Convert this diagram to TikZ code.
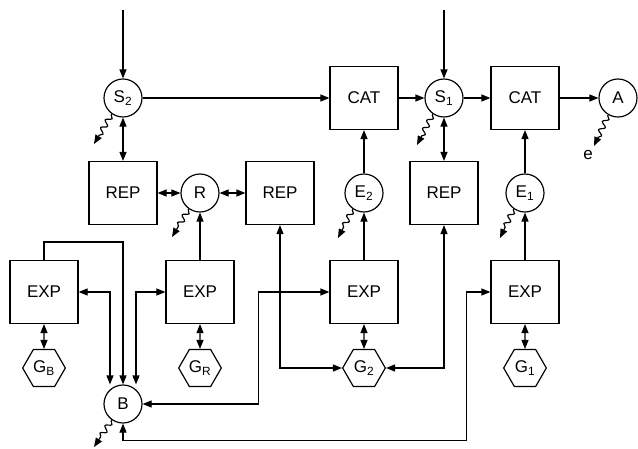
\documentclass[tikz,border=0pt]{standalone}
\usepackage{fontspec}
\setmainfont{Liberation Sans}
\usetikzlibrary{arrows.meta,shapes.geometric,decorations.pathmorphing,calc}

\begin{document}
\begin{tikzpicture}[x=0.03cm,y=-0.03cm,line width=1pt,
  font=\fontsize{14.5}{16}\selectfont,
  >={Triangle[length=2.7mm,width=2.1mm]},
  box/.style={draw,minimum width=2.04cm,minimum height=1.89cm,inner sep=0pt},
  ball/.style={draw,circle,minimum size=1.14cm,inner sep=0pt},
  hexa/.style={draw,regular polygon,regular polygon sides=6,minimum size=1.28cm,inner sep=0pt},
  wave/.style={->,decorate,decoration={snake,amplitude=0.8mm,segment length=2.7mm,pre length=0.3mm,post length=2.7mm}}]
  \useasboundingbox (0,0) rectangle (638,449);

  \node[ball] (S2) at (123,98) {S\textsubscript{2}};
  \node[box] (CAT1) at (364,98) {CAT};
  \node[ball] (S1) at (444,98) {S\textsubscript{1}};
  \node[box] (CAT2) at (525,98) {CAT};
  \node[ball] (A) at (618,98) {A};
  \node[box] (REP1) at (123,193) {REP};
  \node[ball] (R) at (200,193) {R};
  \node[box] (REP2) at (280,193) {REP};
  \node[ball] (E2) at (364,193) {E\textsubscript{2}};
  \node[box] (REP3) at (444,193) {REP};
  \node[ball] (E1) at (525,193) {E\textsubscript{1}};
  \node[box] (EXP1) at (44,292) {EXP};
  \node[box] (EXP2) at (200,292) {EXP};
  \node[box] (EXP3) at (364,292) {EXP};
  \node[box] (EXP4) at (525,292) {EXP};
  \node[hexa] (GB) at (44,368) {G\textsubscript{B}};
  \node[hexa] (GR) at (200,368) {G\textsubscript{R}};
  \node[hexa] (G2) at (364,368) {G\textsubscript{2}};
  \node[hexa] (G1) at (525,368) {G\textsubscript{1}};
  \node[ball] (B) at (123,404) {B};

  \coordinate (in2) at (123,10);
  \coordinate (in1) at (444,10);
  \coordinate (lossS2) at (94,144);
  \coordinate (lossR) at (172,237);
  \coordinate (lossE2) at (338,238);
  \coordinate (lossS1) at (417,145);
  \coordinate (lossE1) at (500,238);
  \coordinate (lossA) at (594,146);
  \coordinate (lossB) at (94,447);
  \node (e) at (588,155) {e};

  \draw[->] (in2) -- (S2);
  \draw[->] (in1) -- (S1);
  \draw[->] (S2) -- (CAT1);
  \draw[->] (CAT1) -- (S1);
  \draw[->] (S1) -- (CAT2);
  \draw[->] (CAT2) -- (A);
  \draw[<->] (S2) -- (REP1);
  \draw[<->] (S1) -- (REP3);
  \draw[<->] (REP1) -- (R);
  \draw[<->] (R) -- (REP2);
  \draw[->] (E2) -- (CAT1);
  \draw[->] (E1) -- (CAT2);
  \draw[->] (EXP2) -- (R);
  \draw[->] (EXP3) -- (E2);
  \draw[->] (EXP4) -- (E1);
  \draw[<->] (EXP1) -- (GB);
  \draw[<->] (EXP2) -- (GR);
  \draw[<->] (EXP3) -- (G2);
  \draw[<->] (EXP4) -- (G1);

  \draw[->] (EXP1.north) -- ++(0,-18) -| (B.north);
  \draw[<->] (EXP1.east) -| ($(B.north)+(-13,0)$);
  \draw[<->] (EXP2.west) -| ($(B.north)+(13,0)$);
  \draw[<->] (B.east) -- ++(116,0) |- (EXP3.west);
  \draw[<->] (REP2.south) |- (G2.west);
  \draw[<->] (REP3.south) |- (G2.east);
  \draw[<->] (B.south) -- ++(0,17) -| ($(EXP4.west)+(-24,0)$) -- (EXP4.west);

  \draw[wave] (S2.235) -- (lossS2);
  \draw[wave] (R.235) -- (lossR);
  \draw[wave] (E2.235) -- (lossE2);
  \draw[wave] (S1.235) -- (lossS1);
  \draw[wave] (E1.235) -- (lossE1);
  \draw[wave] (A.240) -- (lossA);
  \draw[wave] (B.235) -- (lossB);
\end{tikzpicture}
\end{document}
